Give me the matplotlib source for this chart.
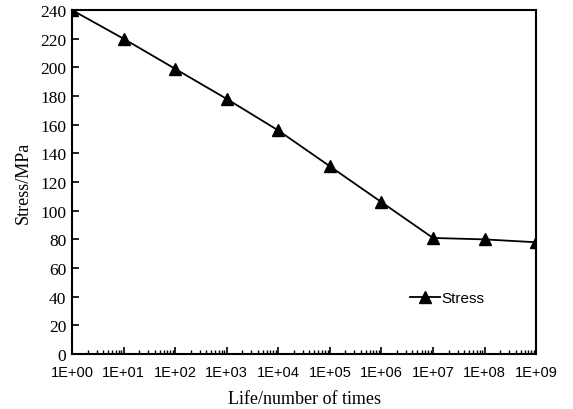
import matplotlib
matplotlib.use('Agg')
import matplotlib.pyplot as plt
import numpy as np

life = [1e0, 1e1, 1e2, 1e3, 1e4, 1e5, 1e6, 1e7, 1e8, 1e9]
stress = [240, 220, 199, 178, 156, 131, 106, 81, 80, 78]
xtick_labels = ['1E+00', '1E+01', '1E+02', '1E+03', '1E+04',
                '1E+05', '1E+06', '1E+07', '1E+08', '1E+09']

fig = plt.figure(figsize=(5.73, 4.10), dpi=100)
ax = fig.add_axes([0.1257, 0.134, 0.810, 0.839])

ax.plot(life, stress, color='black', lw=1.3, marker='^', markersize=9,
        markerfacecolor='black', markeredgecolor='black', label='Stress')

ax.set_xscale('log')
ax.set_xlim(1e0, 1e9)
ax.set_ylim(0, 240)
ax.set_xticks(life)
ax.set_xticklabels(xtick_labels, fontfamily='Liberation Sans', fontsize=10.5)
ax.set_xticks([m * 10 ** d for d in range(9) for m in range(2, 10)], minor=True)
ax.set_xticklabels([], minor=True)
ax.set_yticks(np.arange(0, 241, 20))
for t in ax.get_yticklabels():
    t.set_fontfamily('Liberation Serif')
    t.set_fontsize(12.5)

ax.tick_params(axis='both', which='major', direction='in', length=5, width=1.2,
               top=False, right=False, pad=4)
ax.tick_params(axis='x', which='minor', direction='in', length=3, width=1,
               top=False)
ax.tick_params(axis='x', which='major', pad=8)
for s in ax.spines.values():
    s.set_linewidth(1.5)

ax.set_xlabel('Life/number of times', fontfamily='Liberation Serif',
              fontsize=13, labelpad=8)
ax.set_ylabel('Stress/MPa', fontfamily='Liberation Serif', fontsize=13,
              labelpad=6)

leg = ax.legend(loc='lower left', bbox_to_anchor=(0.698, 0.102), frameon=False,
                handlelength=2.0, handletextpad=0.1,
                prop={'family': 'Liberation Sans', 'size': 11})

fig.savefig('out.png', dpi=100)
